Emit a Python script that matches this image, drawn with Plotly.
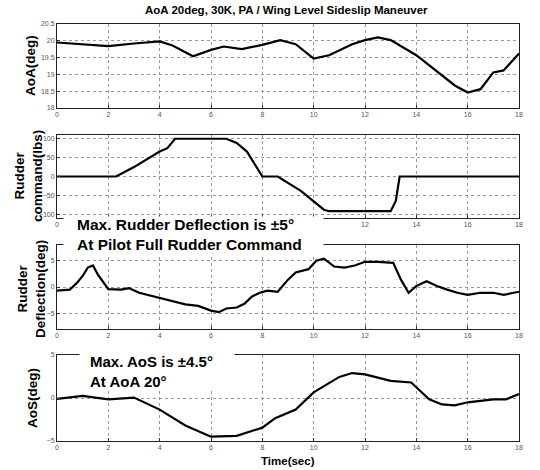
import plotly.graph_objects as go

# ---- data ----
aoa_t = [0, 1, 2, 3, 4, 4.5, 5.3, 6, 6.5, 7.2, 8, 8.7, 9.3, 10, 10.6, 11.5, 12, 12.5, 13, 14, 15, 15.5, 16, 16.5, 17, 17.4, 18]
aoa_v = [19.95, 19.9, 19.84, 19.92, 19.98, 19.86, 19.54, 19.73, 19.83, 19.75, 19.88, 20.02, 19.9, 19.47, 19.57, 19.9, 20.02, 20.1, 20.02, 19.57, 18.96, 18.67, 18.46, 18.56, 19.06, 19.12, 19.62]

cmd_t = [0, 2.3, 3, 4, 4.3, 4.6, 6.6, 7, 7.4, 7.6, 8, 8.6, 9.5, 10.4, 10.6, 13, 13.2, 13.35, 18]
cmd_v = [0, 0, 25, 66, 75, 100, 100, 89, 66, 44, 0, 0, -38, -88, -92, -92, -65, 0, 0]

def_t = [0, 0.3, 0.5, 0.8, 1, 1.2, 1.4, 1.6, 1.8, 2, 2.5, 2.8, 3.2, 3.6, 4, 4.5, 5, 5.5, 6, 6.3, 6.6, 7, 7.3, 7.6, 7.9, 8.2, 8.6, 9, 9.3, 9.8, 10.1, 10.4, 10.8, 11.2, 11.6, 12, 12.5, 13.1, 13.4, 13.7, 14, 14.4, 14.8, 15.2, 15.6, 16, 16.5, 17, 17.4, 18]
def_v = [-0.7, -0.5, -0.5, 0.9, 2.1, 3.7, 4.1, 2.3, 0.9, -0.4, -0.5, -0.2, -1.1, -1.6, -2.1, -2.8, -3.3, -3.6, -4.5, -4.8, -4.1, -3.9, -3.2, -1.8, -1.1, -0.7, -0.9, 1.4, 2.75, 3.4, 5.0, 5.4, 3.9, 3.7, 4.1, 4.8, 4.8, 4.6, 1.4, -1.1, 0.2, 1.1, 0.2, -0.5, -1.1, -1.5, -1.1, -1.1, -1.5, -0.9]

aos_t = [0, 1, 2, 3, 4, 5, 6, 7, 8, 8.5, 9.3, 10, 11, 11.5, 12, 13, 13.8, 14.5, 15, 15.5, 16, 17, 17.5, 18]
aos_v = [-0.1, 0.25, -0.15, 0.05, -1.35, -3.2, -4.5, -4.4, -3.45, -2.35, -1.35, 0.65, 2.45, 2.9, 2.75, 2.0, 1.8, -0.15, -0.75, -0.85, -0.5, -0.15, -0.15, 0.45]

x_ticks = [0, 2, 4, 6, 8, 10, 12, 14, 16, 18]
aoa_ticks = [18, 18.5, 19, 19.5, 20, 20.5]
cmd_ticks = [-100, -50, 0, 50, 100]
def_ticks = [-5, 0, 5]
aos_ticks = [-5, 0, 5]

title_text = "AoA 20deg, 30K, PA / Wing Level Sideslip Maneuver"
ylabels = ["AoA(deg)", "Rudder<br>command(lbs)", "Rudder<br>Deflection(deg)", "AoS(deg)"]
note1 = "Max. Rudder Deflection is ±5°<br>At Pilot Full Rudder Command"
note2 = "Max. AoS is ±4.5°<br>At AoA 20°"

W, H = 540, 470
L, R, T, B = 57, 21, 24, 29
ph = H - T - B

def dom(top, bottom):
    return [(H - B - bottom) / ph, (H - B - top) / ph]

panels = [
    (aoa_t, aoa_v, [18, 20.5], aoa_ticks, dom(24, 108)),
    (cmd_t, cmd_v, [-110, 110], cmd_ticks, dom(135, 218)),
    (def_t, def_v, [-8, 8], def_ticks, dom(245, 329)),
    (aos_t, aos_v, [-5, 5], aos_ticks, dom(355, 441)),
]

fig = go.Figure()
tickfont = dict(family="Liberation Sans", size=7, color="#555")
for i, (tx, vy, yr, yt, d) in enumerate(panels):
    n = "" if i == 0 else str(i + 1)
    fig.add_trace(go.Scatter(x=tx, y=vy, mode="lines", line=dict(color="black", width=2.2),
                             xaxis="x" + n, yaxis="y" + n, showlegend=False))
    xlabels = [str(v) for v in x_ticks]
    if i == 1:  # labels hidden behind the note box in the reference
        xlabels = [s if v in (0, 12, 14, 16, 18) else "" for v, s in zip(x_ticks, xlabels)]
    ax = dict(range=[0, 18], tickvals=x_ticks, ticktext=xlabels, domain=[0, 1], anchor="y" + n,
              showline=True, mirror=True, linecolor="#222", linewidth=1,
              showgrid=True, gridcolor="#999", griddash="dot", gridwidth=1,
              ticks="inside", ticklen=3, tickcolor="#333", tickfont=tickfont, zeroline=False)
    ay = dict(range=yr, tickvals=yt, domain=d, anchor="x" + n,
              showline=True, mirror=True, linecolor="#222", linewidth=1,
              showgrid=True, gridcolor="#999", griddash="dot", gridwidth=1,
              ticks="inside", ticklen=3, tickcolor="#333", tickfont=tickfont, zeroline=False)
    fig.update_layout({"xaxis" + n: ax, "yaxis" + n: ay})

bold = "Liberation Sans"
ann = []
ann.append(dict(text="<b>" + title_text + "</b>", x=286, y=H - 10, xanchor="center", yanchor="middle",
                showarrow=False, font=dict(family=bold, size=11.5, color="black")))
ann.append(dict(text="<b>Time(sec)</b>", x=288, y=H - 461, xanchor="center", yanchor="middle",
                showarrow=False, font=dict(family=bold, size=11.5, color="black")))
ypos = [66, 176, 289, 398]
xpos = [30, 29, 31, 32]
for lab, yc, xc in zip(ylabels, ypos, xpos):
    ann.append(dict(text="<b>" + lab + "</b>", x=xc, y=H - yc, xanchor="center", yanchor="middle",
                    textangle=-90, showarrow=False,
                    font=dict(family=bold, size=13.5, color="black")))
# white boxes hiding the frame behind the notes
ann.append(dict(text=" ", x=63, y=H - 216, xanchor="left", yanchor="top",
                width=259, height=37, bgcolor="white", showarrow=False, borderpad=0))
ann.append(dict(text=" ", x=79, y=H - 349, xanchor="left", yanchor="top",
                width=154, height=40, bgcolor="white", showarrow=False, borderpad=0))
ann.append(dict(text="<b>" + note1 + "</b>", x=75, y=H - 235, xanchor="left", yanchor="middle",
                align="left", showarrow=False,
                font=dict(family=bold, size=15.5, color="black")))
ann.append(dict(text="<b>" + note2 + "</b>", x=88, y=H - 371, xanchor="left", yanchor="middle",
                align="left", showarrow=False,
                font=dict(family=bold, size=15, color="black")))
for a in ann:
    a["xref"] = "paper"
    a["yref"] = "paper"
    a["x"] = (a["x"] - L) / (W - L - R)
    a["y"] = (a["y"] - B) / ph

fig.update_layout(width=W, height=H, margin=dict(l=L, r=R, t=T, b=B),
                  paper_bgcolor="white", plot_bgcolor="white", annotations=ann)
fig.write_html("out.html")
